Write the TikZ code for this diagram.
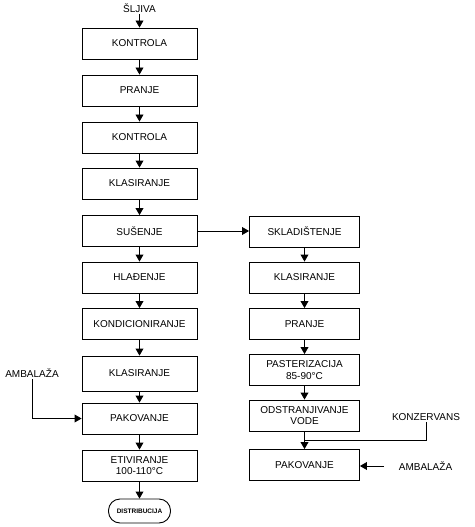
\documentclass[tikz,border=0pt]{standalone}
\usepackage{fontspec}
\setmainfont{Liberation Sans}
\usetikzlibrary{arrows}
\tikzset{
  stage/.style={draw, minimum width=115pt, minimum height=31pt, inner sep=1pt, align=center, font=\fontsize{10}{11.5}\selectfont},
  stageR/.style={stage, minimum width=110pt},
  label/.style={font=\fontsize{10}{11.5}\selectfont, inner sep=1pt},
  endstage/.style={draw, rounded corners=11.5pt, minimum width=62pt, minimum height=24pt, inner sep=1pt, font=\fontsize{6.5}{7}\selectfont\bfseries}
}

\begin{document}
\begin{tikzpicture}[x=1pt, y=-1pt, line width=0.9pt]
\useasboundingbox (0,0) rectangle (474,527);

\node [label] (sljiva) at (139.5,8) {ŠLJIVA};
\node [stage] (kontrola1) at (139.5,43.5) {KONTROLA};
\node [stage] (pranje1) at (139.5,90.5) {PRANJE};
\node [stage] (kontrola2) at (139.5,137.5) {KONTROLA};
\node [stage] (klasiranje1) at (139.5,183.5) {KLASIRANJE};
\node [stage] (susenje) at (139.5,231) {SUŠENJE};
\node [stage] (hladenje) at (139.5,277.5) {HLAĐENJE};
\node [stage] (kondicioniranje) at (139.5,324) {KONDICIONIRANJE};
\node [stage, minimum height=35pt] (klasiranje2) at (139.5,373.5) {KLASIRANJE};
\node [stage] (pakovanje1) at (139.5,418.5) {PAKOVANJE};
\node [stage] (etiviranje) at (139.5,465.5) {ETIVIRANJE\\100-110°C};
\node [endstage] (distribucija) at (139.5,511) {DISTRIBUCIJA};
\node [label] (ambalaza1) at (32,373) {AMBALAŽA};

\node [stageR] (skladistenje) at (304.5,231.5) {SKLADIŠTENJE};
\node [stageR] (klasiranje3) at (304.5,277.5) {KLASIRANJE};
\node [stageR] (pranje2) at (304.5,324) {PRANJE};
\node [stageR] (pasterizacija) at (304.5,370) {PASTERIZACIJA\\85-90°C};
\node [stageR] (odstranjivanje) at (304.5,415.5) {ODSTRANJIVANJE\\VODE};
\node [stageR] (pakovanje2) at (304.5,465) {PAKOVANJE};
\node [label] (konzervans) at (426,417) {KONZERVANS};
\node [label] (ambalaza2) at (425.5,466) {AMBALAŽA};
\coordinate (spoj) at (304.5,440);
\coordinate (ambstart) at (384,466);

\draw [-triangle 60](sljiva) -- (kontrola1);
\draw [-triangle 60](kontrola1) -- (pranje1);
\draw [-triangle 60](pranje1) -- (kontrola2);
\draw [-triangle 60](kontrola2) -- (klasiranje1);
\draw [-triangle 60](klasiranje1) -- (susenje);
\draw [-triangle 60](susenje) -- (hladenje);
\draw [-triangle 60](hladenje) -- (kondicioniranje);
\draw [-triangle 60](kondicioniranje) -- (klasiranje2);
\draw [-triangle 60](klasiranje2) -- (pakovanje1);
\draw [-triangle 60](pakovanje1) -- (etiviranje);
\draw [-triangle 60](etiviranje) -- (distribucija);
\draw [-triangle 60](ambalaza1) |- (pakovanje1);
\draw [-triangle 60](susenje.east) -- (susenje.east -| skladistenje.west);
\draw [-triangle 60](skladistenje) -- (klasiranje3);
\draw [-triangle 60](klasiranje3) -- (pranje2);
\draw [-triangle 60](pranje2) -- (pasterizacija);
\draw [-triangle 60](pasterizacija) -- (odstranjivanje);
\draw [-triangle 60](odstranjivanje) -- (pakovanje2);
\draw (konzervans) |- (spoj);
\draw [-triangle 60](ambstart) -- (ambstart -| pakovanje2.east);
\end{tikzpicture}
\end{document}
